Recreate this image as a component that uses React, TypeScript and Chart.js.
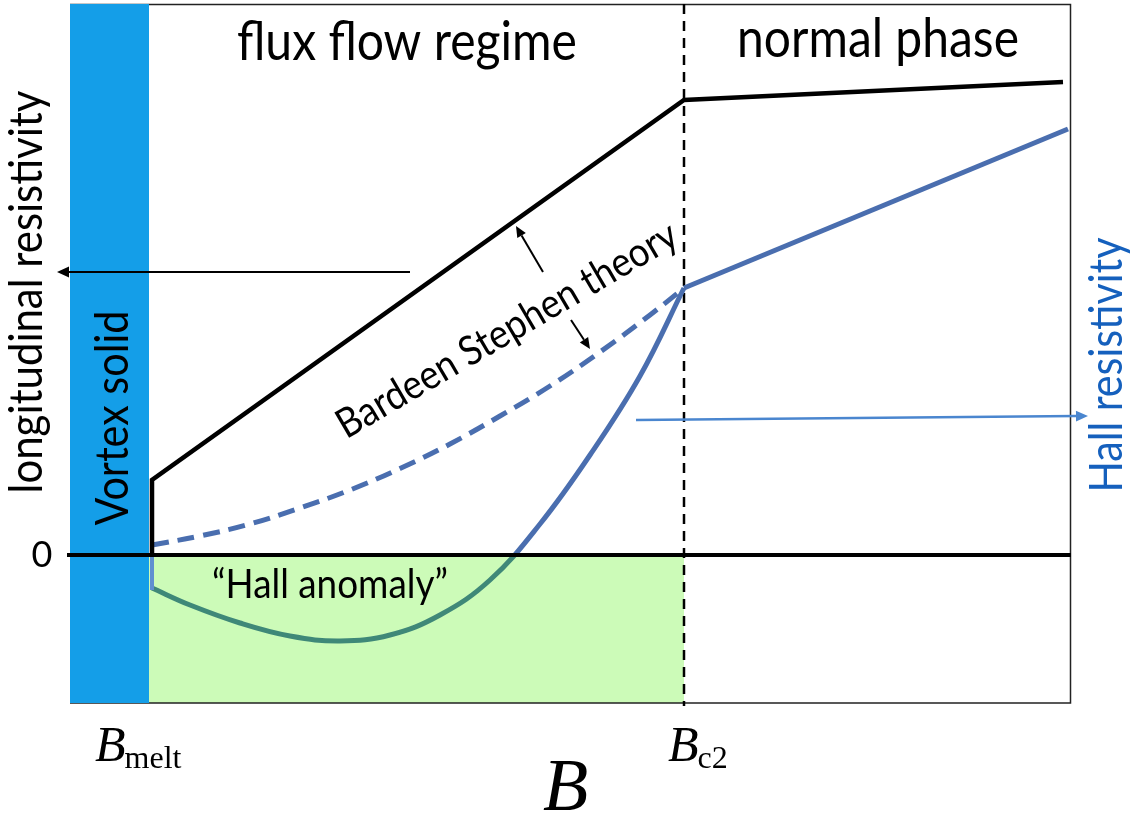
import React, { useEffect, useRef } from 'react';
import { Chart, registerables } from 'chart.js';

Chart.register(...registerables);

// ---- axis ranges / special fields (arbitrary units) ----
const X_MAX = 10.01;
const Y_MIN = -1.48;
const Y_MAX = 5.51;
const B_MELT = 0.79; // edge of vortex-solid region
const B_STEP = 0.82; // onset of resistivity
const B_C2 = 6.14;   // upper critical field

// ---- series ----
const zeroB = [-0.03, X_MAX];
const zeroRho = [0, 0];

const rhoXXB = [B_STEP, B_STEP, B_C2, 9.93];
const rhoXX = [0, 0.75, 4.55, 4.73];

const bsB = [0.82, 1.3, 1.8, 2.3, 2.8, 3.3, 3.8, 4.3, 4.8, 5.3, 5.8, 6.14];
const bsHall = [0.1, 0.19, 0.31, 0.47, 0.65, 0.865, 1.11, 1.39, 1.69, 2.03, 2.4, 2.67];

const hallStubB = [B_STEP, B_STEP];
const hallStub = [0, -0.35];

const hallB = [0.82, 1.2, 1.7, 2.2, 2.7, 3.2, 3.7, 4.2, 4.7, 5.2, 5.7, 6.14];
const hall = [-0.33, -0.5, -0.68, -0.81, -0.86, -0.8, -0.6, -0.25, 0.31, 1.0, 1.79, 2.67];

const hallNormalB = [B_C2, 9.98];
const hallNormal = [2.67, 4.26];

// ---- labels ----
const Y_TICK_LABELS = ['0'];
const X_TICK_BASE = ['B', 'B'];
const X_TICK_SUB = ['melt', 'c2'];
const X_AXIS_TITLE = 'B';
const REGION_LABELS = ['flux flow regime', 'normal phase'];
const Y_LABEL_LEFT = 'longitudinal resistivity';
const Y_LABEL_RIGHT = 'Hall resistivity';
const SOLID_LABEL = 'Vortex solid';
const BS_LABEL = 'Bardeen Stephen theory';
const ANOMALY_LABEL = '\u201CHall anomaly\u201D';

// annotation arrows in data units [x0, y0, x1(tip), y1(tip)]
const ARROW_LONG = [3.4, 2.83, -0.13, 2.83];
const ARROW_HALL = [5.66, 1.35, 10.18, 1.39];
const ARROW_BS_UP = [4.73, 2.83, 4.46, 3.29];
const ARROW_BS_DOWN = [5.01, 2.35, 5.2, 2.06];

const BLUE = '#4a6eaf';
const TEAL = '#3f8878';
const BAND = '#149ee8';
const GREEN = '#ccfbb8';
const SANS = 'Lato, "Open Sans", sans-serif';
const SERIF = '"Liberation Serif", "DejaVu Serif", serif';
const SQUEEZE = 1.12;

const zip = (xs: number[], ys: number[]) => xs.map((x, i) => ({ x, y: ys[i] }));

function arrow(ctx: CanvasRenderingContext2D, x0: number, y0: number, x1: number, y1: number, color: string, width: number, head: number) {
  ctx.save();
  ctx.strokeStyle = color;
  ctx.fillStyle = color;
  ctx.lineWidth = width;
  const a = Math.atan2(y1 - y0, x1 - x0);
  const bx = x1 - head * Math.cos(a);
  const by = y1 - head * Math.sin(a);
  ctx.beginPath();
  ctx.moveTo(x0, y0);
  ctx.lineTo(bx, by);
  ctx.stroke();
  ctx.beginPath();
  ctx.moveTo(x1, y1);
  ctx.lineTo(bx + head * 0.45 * Math.sin(a), by - head * 0.45 * Math.cos(a));
  ctx.lineTo(bx - head * 0.45 * Math.sin(a), by + head * 0.45 * Math.cos(a));
  ctx.closePath();
  ctx.fill();
  ctx.restore();
}

function fitText(ctx: CanvasRenderingContext2D, text: string, x: number, y: number, width: number, angle: number, color: string, baseline: CanvasTextBaseline = 'alphabetic') {
  ctx.save();
  ctx.font = `100px ${SANS}`;
  const w = ctx.measureText(text).width;
  const size = ((100 * width) / w) * SQUEEZE;
  ctx.font = `${size}px ${SANS}`;
  ctx.translate(x, y);
  ctx.rotate(angle);
  ctx.scale(1 / SQUEEZE, 1);
  ctx.fillStyle = color;
  ctx.textAlign = 'center';
  ctx.textBaseline = baseline;
  ctx.fillText(text, 0, 0);
  ctx.restore();
}

function mathLabel(ctx: CanvasRenderingContext2D, base: string, sub: string, x: number, y: number, size: number, subSize: number) {
  ctx.save();
  ctx.fillStyle = '#000';
  ctx.textBaseline = 'alphabetic';
  ctx.textAlign = 'left';
  ctx.font = `italic ${size}px ${SERIF}`;
  ctx.fillText(base, x, y);
  const w = ctx.measureText(base).width;
  if (sub) {
    ctx.font = `${subSize}px ${SERIF}`;
    ctx.fillText(sub, x + w - size * 0.02, y + size * 0.14);
  }
  ctx.restore();
}

function splitColor(c: any) {
  const chart = c.chart;
  const ca = chart.chartArea;
  if (!ca) return BLUE;
  const y0 = chart.scales.y.getPixelForValue(0);
  const g = chart.ctx.createLinearGradient(0, ca.top, 0, ca.bottom);
  const f = Math.min(1, Math.max(0, (y0 - ca.top) / (ca.bottom - ca.top)));
  g.addColorStop(0, BLUE);
  g.addColorStop(f, BLUE);
  g.addColorStop(f, TEAL);
  g.addColorStop(1, TEAL);
  return g;
}

const decor = {
  id: 'decor',
  beforeDatasetsDraw(chart: any) {
    const { ctx, chartArea: ca, scales } = chart;
    const xs = scales.x;
    const ys = scales.y;
    ctx.save();
    ctx.fillStyle = '#fff';
    ctx.fillRect(0, 0, chart.width, chart.height);
    const xm = xs.getPixelForValue(B_MELT);
    const xc = xs.getPixelForValue(B_C2);
    const y0 = ys.getPixelForValue(0);
    ctx.fillStyle = GREEN;
    ctx.fillRect(xm, y0, xc - xm, ca.bottom - y0);
    ctx.strokeStyle = '#222';
    ctx.lineWidth = 1.5;
    ctx.beginPath();
    ctx.moveTo(ca.left, ca.top + 0.5);
    ctx.lineTo(ca.right - 0.5, ca.top + 0.5);
    ctx.lineTo(ca.right - 0.5, ca.bottom);
    ctx.lineTo(ca.left, ca.bottom);
    ctx.stroke();
    ctx.fillStyle = BAND;
    ctx.fillRect(ca.left, ca.top, xm - ca.left, ca.bottom - ca.top);
    ctx.strokeStyle = '#000';
    ctx.lineWidth = 2.5;
    ctx.setLineDash([10, 7]);
    ctx.beginPath();
    ctx.moveTo(xc, ca.top);
    ctx.lineTo(xc, ca.bottom + 3);
    ctx.stroke();
    ctx.restore();
  },
  afterDraw(chart: any) {
    const { ctx, scales } = chart;
    const xs = scales.x;
    const ys = scales.y;
    const P = (a: number[]) => [xs.getPixelForValue(a[0]), ys.getPixelForValue(a[1]), xs.getPixelForValue(a[2]), ys.getPixelForValue(a[3])];

    let p = P(ARROW_LONG);
    arrow(ctx, p[0], p[1], p[2], p[3], '#000', 2, 12);
    p = P(ARROW_HALL);
    arrow(ctx, p[0], p[1], p[2], p[3], '#4a86cf', 2.5, 12);
    p = P(ARROW_BS_UP);
    arrow(ctx, p[0], p[1], p[2], p[3], '#000', 2, 11);
    p = P(ARROW_BS_DOWN);
    arrow(ctx, p[0], p[1], p[2], p[3], '#000', 2, 11);

    fitText(ctx, REGION_LABELS[0], 407, 60, 340, 0, '#000');
    fitText(ctx, REGION_LABELS[1], 878, 57, 282, 0, '#000');
    fitText(ctx, Y_LABEL_LEFT, 42, 292, 403, -Math.PI / 2, '#000');
    fitText(ctx, SOLID_LABEL, 128, 418, 215, -Math.PI / 2, '#000');
    fitText(ctx, Y_LABEL_RIGHT, 1122, 365, 255, -Math.PI / 2, '#1560bd');
    fitText(ctx, BS_LABEL, 507, 330, 388, -0.53, '#000', 'middle');
    fitText(ctx, ANOMALY_LABEL, 330, 598, 236, 0, '#000');

    ctx.save();
    ctx.font = `36px ${SANS}`;
    ctx.fillStyle = '#000';
    ctx.textAlign = 'center';
    ctx.textBaseline = 'middle';
    ctx.fillText(Y_TICK_LABELS[0], 42, ys.getPixelForValue(0));
    ctx.restore();

    const tickX = [xs.getPixelForValue(B_MELT) - 54, xs.getPixelForValue(B_C2) - 16];
    for (let i = 0; i < X_TICK_BASE.length; i++) {
      mathLabel(ctx, X_TICK_BASE[i], X_TICK_SUB[i], tickX[i], 761, 50, 32);
    }
    mathLabel(ctx, X_AXIS_TITLE, '', 543, 810, 74, 0);
  },
};

export default function App() {
  const ref = useRef<HTMLCanvasElement | null>(null);
  useEffect(() => {
    const canvas = ref.current;
    if (!canvas) return;
    const common = { pointRadius: 0, borderWidth: 5, fill: false, clip: false as any };
    const chart = new Chart(canvas, {
      type: 'line',
      data: {
        datasets: [
          { ...common, label: 'zero', data: zip(zeroB, zeroRho), borderColor: '#000', borderWidth: 4 },
          { ...common, label: 'rho_xx', data: zip(rhoXXB, rhoXX), borderColor: '#000', borderWidth: 4.5, borderJoinStyle: 'miter' },
          { ...common, label: 'hall stub', data: zip(hallStubB, hallStub), borderColor: '#5f8fd0', borderWidth: 4 },
          { ...common, label: 'rho_xy', data: zip(hallB, hall), borderColor: splitColor, tension: 0.4 },
          { ...common, label: 'rho_xy normal', data: zip(hallNormalB, hallNormal), borderColor: BLUE },
          {
            ...common,
            label: 'Bardeen-Stephen',
            data: zip(bsB, bsHall),
            borderColor: BLUE,
            borderDash: [17, 9],
            tension: 0.4,
          },
        ] as any,
      },
      options: {
        responsive: false,
        animation: false,
        devicePixelRatio: 1,
        events: [],
        layout: { padding: { left: 70, top: 4, right: 63, bottom: 115 } },
        plugins: { legend: { display: false }, tooltip: { enabled: false } },
        scales: {
          x: { type: 'linear', min: 0, max: X_MAX, display: false },
          y: { type: 'linear', min: Y_MIN, max: Y_MAX, display: false },
        },
      },
      plugins: [decor],
    });
    return () => chart.destroy();
  }, []);
  return (
    <div style={{ position: 'fixed', left: 0, top: 0, width: 1134, height: 818, background: '#fff' }}>
      <canvas ref={ref} width={1134} height={818} style={{ display: 'block', width: 1134, height: 818 }} />
    </div>
  );
}
